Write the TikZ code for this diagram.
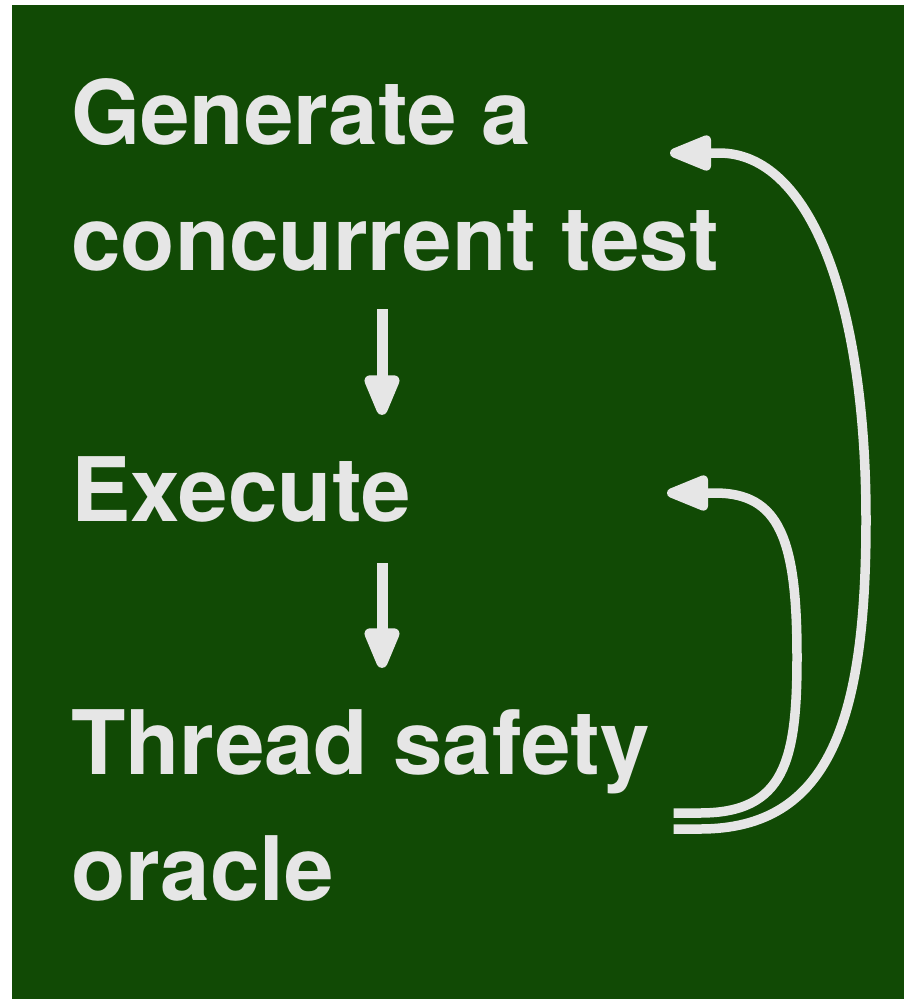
\documentclass[tikz,border=0pt]{standalone}
\usepackage{fontspec}
\setmainfont{TeX Gyre Heros}
\usetikzlibrary{arrows.meta}
\definecolor{panelgreen}{RGB}{17,74,5}
\definecolor{chalk}{RGB}{230,230,230}

\begin{document}
\begin{tikzpicture}[x=1pt, y=-1pt,
  stage/.style={anchor=base west, inner sep=0pt, align=left, text=chalk,
    font=\fontsize{89}{126}\selectfont\bfseries},
  down/.style={chalk, line width=11pt, -{Triangle[length=50pt,width=37pt,round]}},
  loop/.style={chalk, line width=9.5pt, -{Triangle[length=50pt,width=37pt,round]}}]
  \useasboundingbox (0,0) rectangle (904,999);
  % background panel
  \fill[panelgreen] (12,5) rectangle (904,999);
  % the three stages (base = last line)
  \node[stage] (gen) at (71,270) {Generate a\\concurrent test};
  \node[stage] (exec) at (71,521) {Execute};
  \node[stage] (oracle) at (71,900) {Thread safety\\oracle};
  % straight arrows down
  \coordinate (mid) at (382,0);
  \draw[down, shorten <=38pt, shorten >=41pt] (gen.south -| mid) -- (exec.north -| mid);
  \draw[down, shorten <=41pt, shorten >=41pt] (exec.south -| mid) -- (oracle.north -| mid);
  % feedback loops
  \coordinate (genin) at (670,153);
  \coordinate (execin) at (667,493);
  \draw[loop] (oracle.east |- 0,829) ++(24,0) -- (700,829)
    .. controls (830,829) and (866,720) .. (866,520)
    .. controls (866,300) and (810,153) .. (719,153) -- (genin);
  \draw[loop] (oracle.east |- 0,813) ++(24,0) -- (700,813)
    .. controls (785,813) and (797,760) .. (797,657)
    .. controls (797,540) and (780,493) .. (715,493) -- (execin);
\end{tikzpicture}
\end{document}
